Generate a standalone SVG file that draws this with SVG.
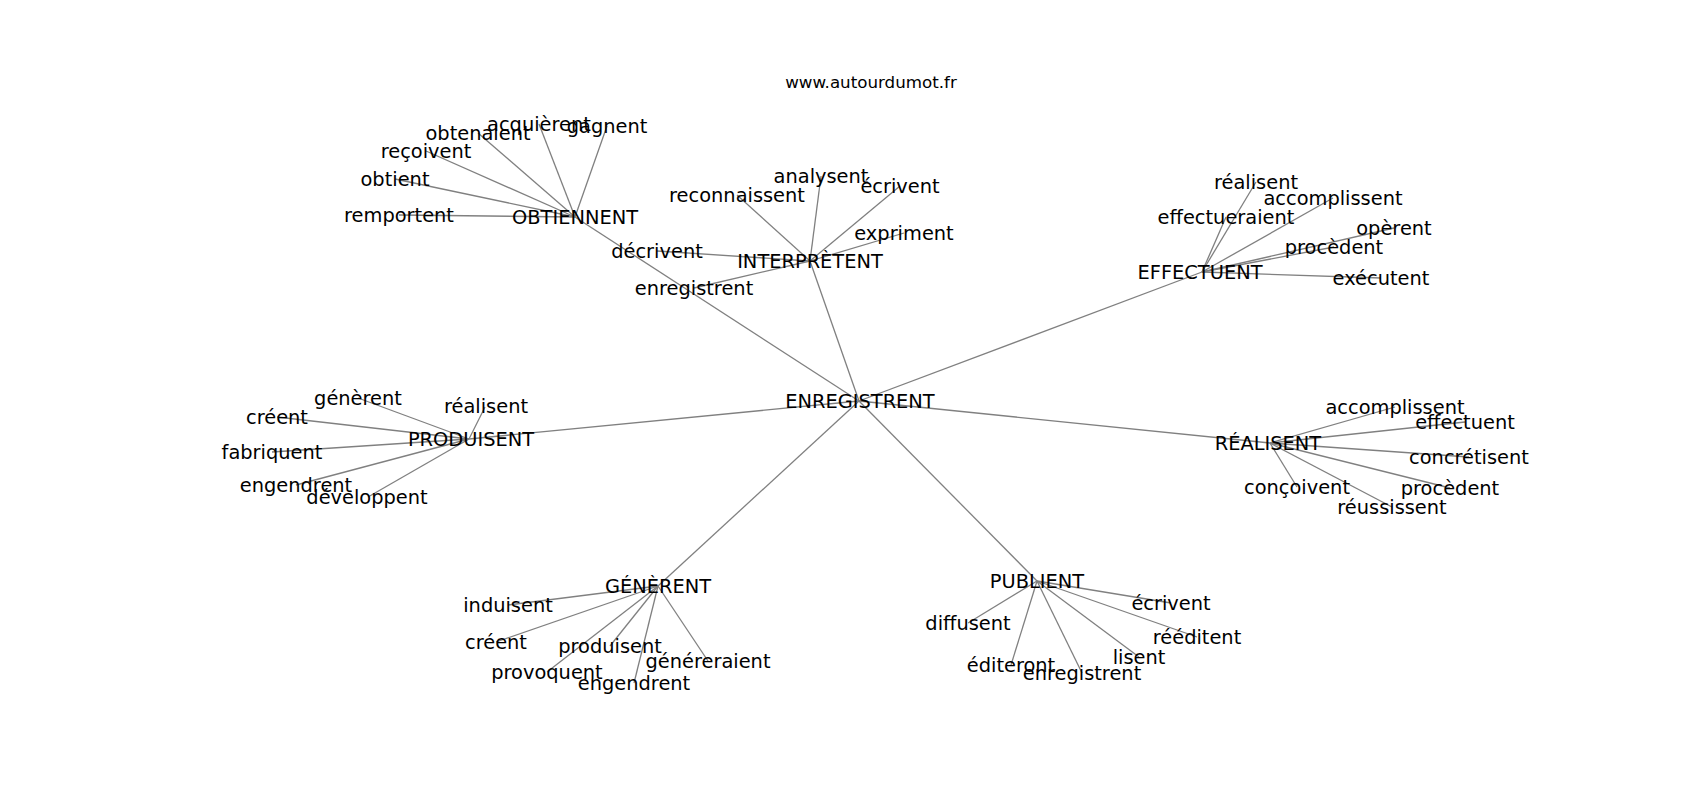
<svg xmlns="http://www.w3.org/2000/svg" width="1700" height="800" viewBox="0 0 1700 800">
<style>
.e{stroke:#808080;stroke-width:1.3;fill:none}
.n text{font-family:"DejaVu Sans","Liberation Sans",sans-serif;font-size:19.4px;fill:#000;text-anchor:middle}
.t{font-family:"DejaVu Sans","Liberation Sans",sans-serif;font-size:16.7px;fill:#000;text-anchor:middle}
</style>
<rect width="1700" height="800" fill="#fff"/>
<text class="t" x="871" y="88">www.autourdumot.fr</text>
<g id="edges">
<line class="e" x1="859" y1="401" x2="575" y2="217"/>
<line class="e" x1="859" y1="401" x2="810" y2="261"/>
<line class="e" x1="859" y1="401" x2="1202" y2="272"/>
<line class="e" x1="859" y1="401" x2="469" y2="439"/>
<line class="e" x1="859" y1="401" x2="1270" y2="443"/>
<line class="e" x1="859" y1="401" x2="658" y2="586"/>
<line class="e" x1="859" y1="401" x2="1037" y2="581"/>
<line class="e" x1="575" y1="217" x2="539" y2="124"/>
<line class="e" x1="575" y1="217" x2="607" y2="126"/>
<line class="e" x1="575" y1="217" x2="478" y2="133"/>
<line class="e" x1="575" y1="217" x2="426" y2="151"/>
<line class="e" x1="575" y1="217" x2="395" y2="179"/>
<line class="e" x1="575" y1="217" x2="399" y2="215"/>
<line class="e" x1="810" y1="261" x2="821" y2="176"/>
<line class="e" x1="810" y1="261" x2="900" y2="186"/>
<line class="e" x1="810" y1="261" x2="737" y2="195"/>
<line class="e" x1="810" y1="261" x2="904" y2="233"/>
<line class="e" x1="810" y1="261" x2="657" y2="251"/>
<line class="e" x1="810" y1="261" x2="694" y2="288"/>
<line class="e" x1="1202" y1="272" x2="1256" y2="182"/>
<line class="e" x1="1202" y1="272" x2="1333" y2="198"/>
<line class="e" x1="1202" y1="272" x2="1226" y2="217"/>
<line class="e" x1="1202" y1="272" x2="1394" y2="228"/>
<line class="e" x1="1202" y1="272" x2="1334" y2="247"/>
<line class="e" x1="1202" y1="272" x2="1381" y2="278"/>
<line class="e" x1="469" y1="439" x2="358" y2="398"/>
<line class="e" x1="469" y1="439" x2="485" y2="407"/>
<line class="e" x1="469" y1="439" x2="277" y2="417"/>
<line class="e" x1="469" y1="439" x2="272" y2="452"/>
<line class="e" x1="469" y1="439" x2="296" y2="485"/>
<line class="e" x1="469" y1="439" x2="368" y2="497"/>
<line class="e" x1="1270" y1="443" x2="1395" y2="407"/>
<line class="e" x1="1270" y1="443" x2="1465" y2="422"/>
<line class="e" x1="1270" y1="443" x2="1469" y2="457"/>
<line class="e" x1="1270" y1="443" x2="1450" y2="488"/>
<line class="e" x1="1270" y1="443" x2="1297" y2="487"/>
<line class="e" x1="1270" y1="443" x2="1392" y2="507"/>
<line class="e" x1="658" y1="586" x2="508" y2="605"/>
<line class="e" x1="658" y1="586" x2="496" y2="642"/>
<line class="e" x1="658" y1="586" x2="610" y2="646"/>
<line class="e" x1="658" y1="586" x2="547" y2="672"/>
<line class="e" x1="658" y1="586" x2="634" y2="683"/>
<line class="e" x1="658" y1="586" x2="708" y2="661"/>
<line class="e" x1="1037" y1="581" x2="1171" y2="603"/>
<line class="e" x1="1037" y1="581" x2="968" y2="623"/>
<line class="e" x1="1037" y1="581" x2="1197" y2="637"/>
<line class="e" x1="1037" y1="581" x2="1139" y2="657"/>
<line class="e" x1="1037" y1="581" x2="1011" y2="665"/>
<line class="e" x1="1037" y1="581" x2="1082" y2="673"/>
</g>
<g id="n-enregistrent" class="n"><text x="860" y="408">ENREGISTRENT</text></g>
<g id="n-obtiennent" class="n"><text x="575" y="224">OBTIENNENT</text></g>
<g id="n-interpretent" class="n"><text x="810" y="268">INTERPRÈTENT</text></g>
<g id="n-effectuent" class="n"><text x="1200" y="279">EFFECTUENT</text></g>
<g id="n-produisent" class="n"><text x="471" y="446">PRODUISENT</text></g>
<g id="n-realisent" class="n"><text x="1268" y="450">RÉALISENT</text></g>
<g id="n-generent" class="n"><text x="658" y="593">GÉNÈRENT</text></g>
<g id="n-publient" class="n"><text x="1037" y="588">PUBLIENT</text></g>
<g id="n-acquierent" class="n"><text x="539" y="131">acquièrent</text></g>
<g id="n-gagnent" class="n"><text x="607" y="133">gagnent</text></g>
<g id="n-obtenaient" class="n"><text x="478" y="140">obtenaient</text></g>
<g id="n-recoivent" class="n"><text x="426" y="158">reçoivent</text></g>
<g id="n-obtient" class="n"><text x="395" y="186">obtient</text></g>
<g id="n-remportent" class="n"><text x="399" y="222">remportent</text></g>
<g id="n-analysent" class="n"><text x="821" y="183">analysent</text></g>
<g id="n-ecrivent1" class="n"><text x="900" y="193">écrivent</text></g>
<g id="n-reconnaissent" class="n"><text x="737" y="202">reconnaissent</text></g>
<g id="n-expriment" class="n"><text x="904" y="240">expriment</text></g>
<g id="n-decrivent" class="n"><text x="657" y="258">décrivent</text></g>
<g id="n-enregistrent1" class="n"><text x="694" y="295">enregistrent</text></g>
<g id="n-realisent1" class="n"><text x="1256" y="189">réalisent</text></g>
<g id="n-accomplissent1" class="n"><text x="1333" y="205">accomplissent</text></g>
<g id="n-effectueraient" class="n"><text x="1226" y="224">effectueraient</text></g>
<g id="n-operent" class="n"><text x="1394" y="235">opèrent</text></g>
<g id="n-procedent1" class="n"><text x="1334" y="254">procèdent</text></g>
<g id="n-executent" class="n"><text x="1381" y="285">exécutent</text></g>
<g id="n-generent1" class="n"><text x="358" y="405">génèrent</text></g>
<g id="n-realisent2" class="n"><text x="486" y="413">réalisent</text></g>
<g id="n-creent1" class="n"><text x="277" y="424">créent</text></g>
<g id="n-fabriquent" class="n"><text x="272" y="459">fabriquent</text></g>
<g id="n-engendrent1" class="n"><text x="296" y="492">engendrent</text></g>
<g id="n-developpent" class="n"><text x="367" y="504">développent</text></g>
<g id="n-accomplissent2" class="n"><text x="1395" y="414">accomplissent</text></g>
<g id="n-effectuent" class="n"><text x="1465" y="429">effectuent</text></g>
<g id="n-concretisent" class="n"><text x="1469" y="464">concrétisent</text></g>
<g id="n-procedent2" class="n"><text x="1450" y="495">procèdent</text></g>
<g id="n-concoivent" class="n"><text x="1297" y="494">conçoivent</text></g>
<g id="n-reussissent" class="n"><text x="1392" y="514">réussissent</text></g>
<g id="n-induisent" class="n"><text x="508" y="612">induisent</text></g>
<g id="n-creent2" class="n"><text x="496" y="649">créent</text></g>
<g id="n-produisent" class="n"><text x="610" y="653">produisent</text></g>
<g id="n-provoquent" class="n"><text x="547" y="679">provoquent</text></g>
<g id="n-engendrent2" class="n"><text x="634" y="690">engendrent</text></g>
<g id="n-genereraient" class="n"><text x="708" y="668">généreraient</text></g>
<g id="n-ecrivent2" class="n"><text x="1171" y="610">écrivent</text></g>
<g id="n-diffusent" class="n"><text x="968" y="630">diffusent</text></g>
<g id="n-reeditent" class="n"><text x="1197" y="644">rééditent</text></g>
<g id="n-lisent" class="n"><text x="1139" y="664">lisent</text></g>
<g id="n-editeront" class="n"><text x="1011" y="672">éditeront</text></g>
<g id="n-enregistrent2" class="n"><text x="1082" y="680">enregistrent</text></g>
</svg>
